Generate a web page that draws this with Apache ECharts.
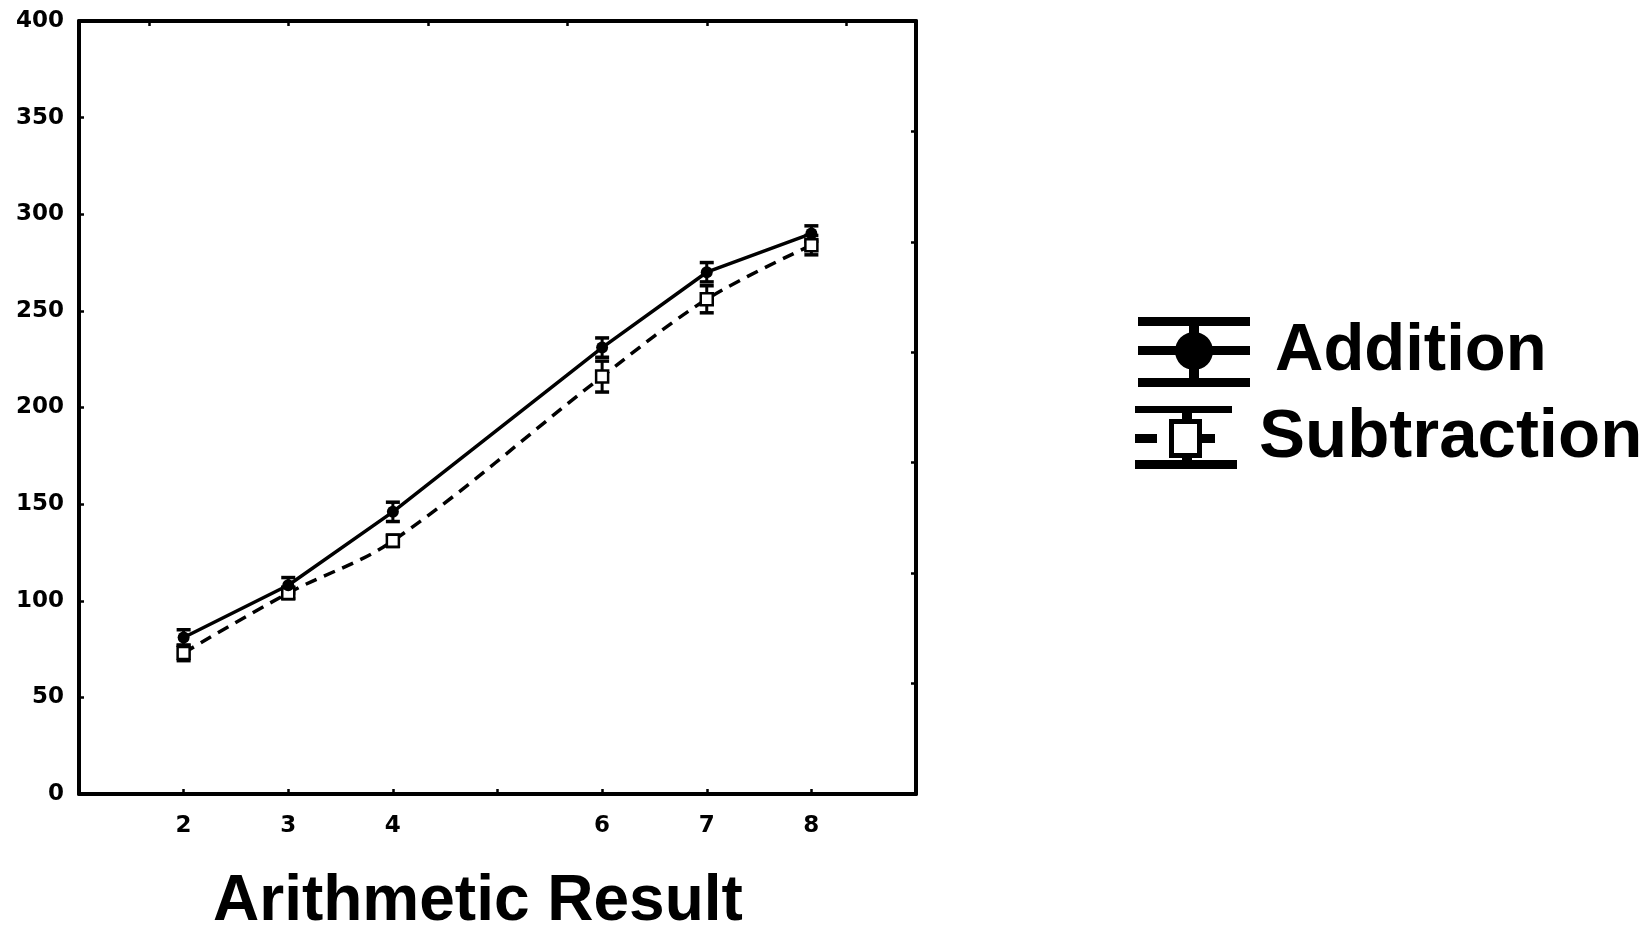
<!DOCTYPE html>
<html>
<head>
<meta charset="utf-8">
<script src="https://cdn.jsdelivr.net/npm/echarts@6/dist/echarts.min.js"></script>
<style>
  html, body { margin: 0; padding: 0; background: #ffffff; }
  #chart { width: 1647px; height: 926px; }
</style>
</head>
<body>
<div id="chart"></div>
<script>
// ---- data ----
var xValues = [2, 3, 4, 6, 7, 8];
var xTickLabels = ['2', '3', '4', '6', '7', '8'];
var additionMeans = [81, 108, 146, 231, 270, 290];
var additionErrors = [4, 4, 5, 5, 5, 4];
var subtractionMeans = [73, 104, 131, 216, 256, 284];
var subtractionErrors = [4, 3, 3, 8, 7, 5];
var yTickValues = [0, 50, 100, 150, 200, 250, 300, 350, 400];
var seriesNames = ['Addition', 'Subtraction'];
var xTitle = 'Arithmetic Result';

function pairs(xs, ys) { return xs.map(function (x, i) { return [x, ys[i]]; }); }
function triples(xs, ys, es) { return xs.map(function (x, i) { return [x, ys[i], es[i]]; }); }

function errorBarRender(params, api) {
  var x = api.value(0), y = api.value(1), e = api.value(2);
  var hi = api.coord([x, y + e]);
  var lo = api.coord([x, y - e]);
  var cap = 7;
  var st = { stroke: '#000', lineWidth: 3.5 };
  return {
    type: 'group',
    children: [
      { type: 'line', shape: { x1: hi[0], y1: hi[1], x2: lo[0], y2: lo[1] }, style: { stroke: '#000', lineWidth: 3 } },
      { type: 'line', shape: { x1: hi[0] - cap, y1: hi[1], x2: hi[0] + cap, y2: hi[1] }, style: st },
      { type: 'line', shape: { x1: lo[0] - cap, y1: lo[1], x2: lo[0] + cap, y2: lo[1] }, style: st }
    ]
  };
}

var addIcon = 'path://M0 0 H112 V9 H0 Z M0 29 H112 V38 H0 Z M0 61 H112 V70 H0 Z M51 0 H61 V70 H51 Z ' +
  'M37 34 A19 19 0 1 1 75 34 A19 19 0 1 1 37 34 Z';
var subIcon = 'path://M0 0 H97 V7 H0 Z M0 54 H102 V63 H0 Z M0 28 H22 V37 H0 Z M66 28 H80 V37 H66 Z ' +
  'M34 13 H67 V18 H34 Z M34 47 H67 V52 H34 Z M34 13 H39 V52 H34 Z M62 13 H67 V52 H62 Z ' +
  'M47 7 H57 V13 H47 Z M47 52 H57 V54 H47 Z';

var labelFont = { color: '#000', fontFamily: 'DejaVu Sans', fontWeight: 'bold', fontSize: 23 };
var tickStyle = { show: true, inside: true, length: 5, lineStyle: { color: '#000', width: 2.5 } };
var frameLine = { show: true, onZero: false, lineStyle: { color: '#000', width: 4 } };

var chart = echarts.init(document.getElementById('chart'));
chart.setOption({
  animation: false,
  backgroundColor: '#ffffff',
  title: {
    text: xTitle,
    left: 213, top: 870, padding: 0,
    textStyle: { color: '#000', fontFamily: 'Liberation Sans', fontWeight: 'bold', fontSize: 64, lineHeight: 64 }
  },
  legend: [
    {
      left: 1138, top: 317, padding: 0, orient: 'vertical', selectedMode: false,
      itemWidth: 112, itemHeight: 70, symbolKeepAspect: false,
      data: [{ name: seriesNames[0], icon: addIcon, itemStyle: { color: '#000', borderWidth: 0 } }],
      textStyle: { color: '#000', fontFamily: 'Liberation Sans', fontWeight: 'bold', fontSize: 67, lineHeight: 70, padding: [0, 0, 0, 20] }
    },
    {
      left: 1135, top: 403, padding: 0, orient: 'vertical', selectedMode: false,
      itemWidth: 102, itemHeight: 63, symbolKeepAspect: false,
      data: [{ name: seriesNames[1], icon: subIcon, itemStyle: { color: '#000', borderWidth: 0 } }],
      textStyle: { color: '#000', fontFamily: 'Liberation Sans', fontWeight: 'bold', fontSize: 69, lineHeight: 63, padding: [0, 0, 0, 17] }
    }
  ],
  grid: { left: 79, right: 731, top: 21, bottom: 132, containLabel: false },
  xAxis: [
    {
      type: 'value', min: 1, max: 9, interval: 1, position: 'bottom',
      axisLine: frameLine, axisTick: tickStyle, splitLine: { show: false },
      axisLabel: Object.assign({ margin: 21, formatter: function (v) {
        var i = xValues.indexOf(v); return i >= 0 ? xTickLabels[i] : '';
      } }, labelFont)
    },
    {
      type: 'category', position: 'top', data: ['', '', '', '', '', ''], boundaryGap: true,
      axisLine: frameLine, axisTick: Object.assign({ alignWithLabel: true }, tickStyle),
      axisLabel: { show: false }, splitLine: { show: false }
    }
  ],
  yAxis: [
    {
      type: 'value', min: 0, max: 400, interval: 50, position: 'left',
      axisLine: frameLine, axisTick: tickStyle, splitLine: { show: false },
      axisLabel: Object.assign({ margin: 15, formatter: function (v) {
        return yTickValues.indexOf(v) >= 0 ? String(v) : '';
      } }, labelFont)
    },
    {
      type: 'value', min: 0, max: 7, interval: 1, position: 'right',
      axisLine: frameLine, axisTick: tickStyle, splitLine: { show: false },
      axisLabel: { show: false }
    }
  ],
  series: [
    {
      name: seriesNames[0] + ' error', type: 'custom', xAxisIndex: 0, yAxisIndex: 0, z: 1,
      renderItem: errorBarRender, data: triples(xValues, additionMeans, additionErrors), silent: true
    },
    {
      name: seriesNames[1] + ' error', type: 'custom', xAxisIndex: 0, yAxisIndex: 0, z: 1,
      renderItem: errorBarRender, data: triples(xValues, subtractionMeans, subtractionErrors), silent: true
    },
    {
      name: seriesNames[1], type: 'line', xAxisIndex: 0, yAxisIndex: 0, z: 2,
      data: pairs(xValues, subtractionMeans), smooth: 0.35,
      lineStyle: { color: '#000', width: 3.5, type: [12, 8] },
      symbol: 'rect', symbolSize: 12,
      itemStyle: { color: '#fff', borderColor: '#000', borderWidth: 2.5 }
    },
    {
      name: seriesNames[0], type: 'line', xAxisIndex: 0, yAxisIndex: 0, z: 3,
      data: pairs(xValues, additionMeans),
      lineStyle: { color: '#000', width: 3.5, type: 'solid' },
      symbol: 'circle', symbolSize: 12,
      itemStyle: { color: '#000', borderColor: '#000', borderWidth: 0 }
    }
  ]
});
</script>
</body>
</html>
